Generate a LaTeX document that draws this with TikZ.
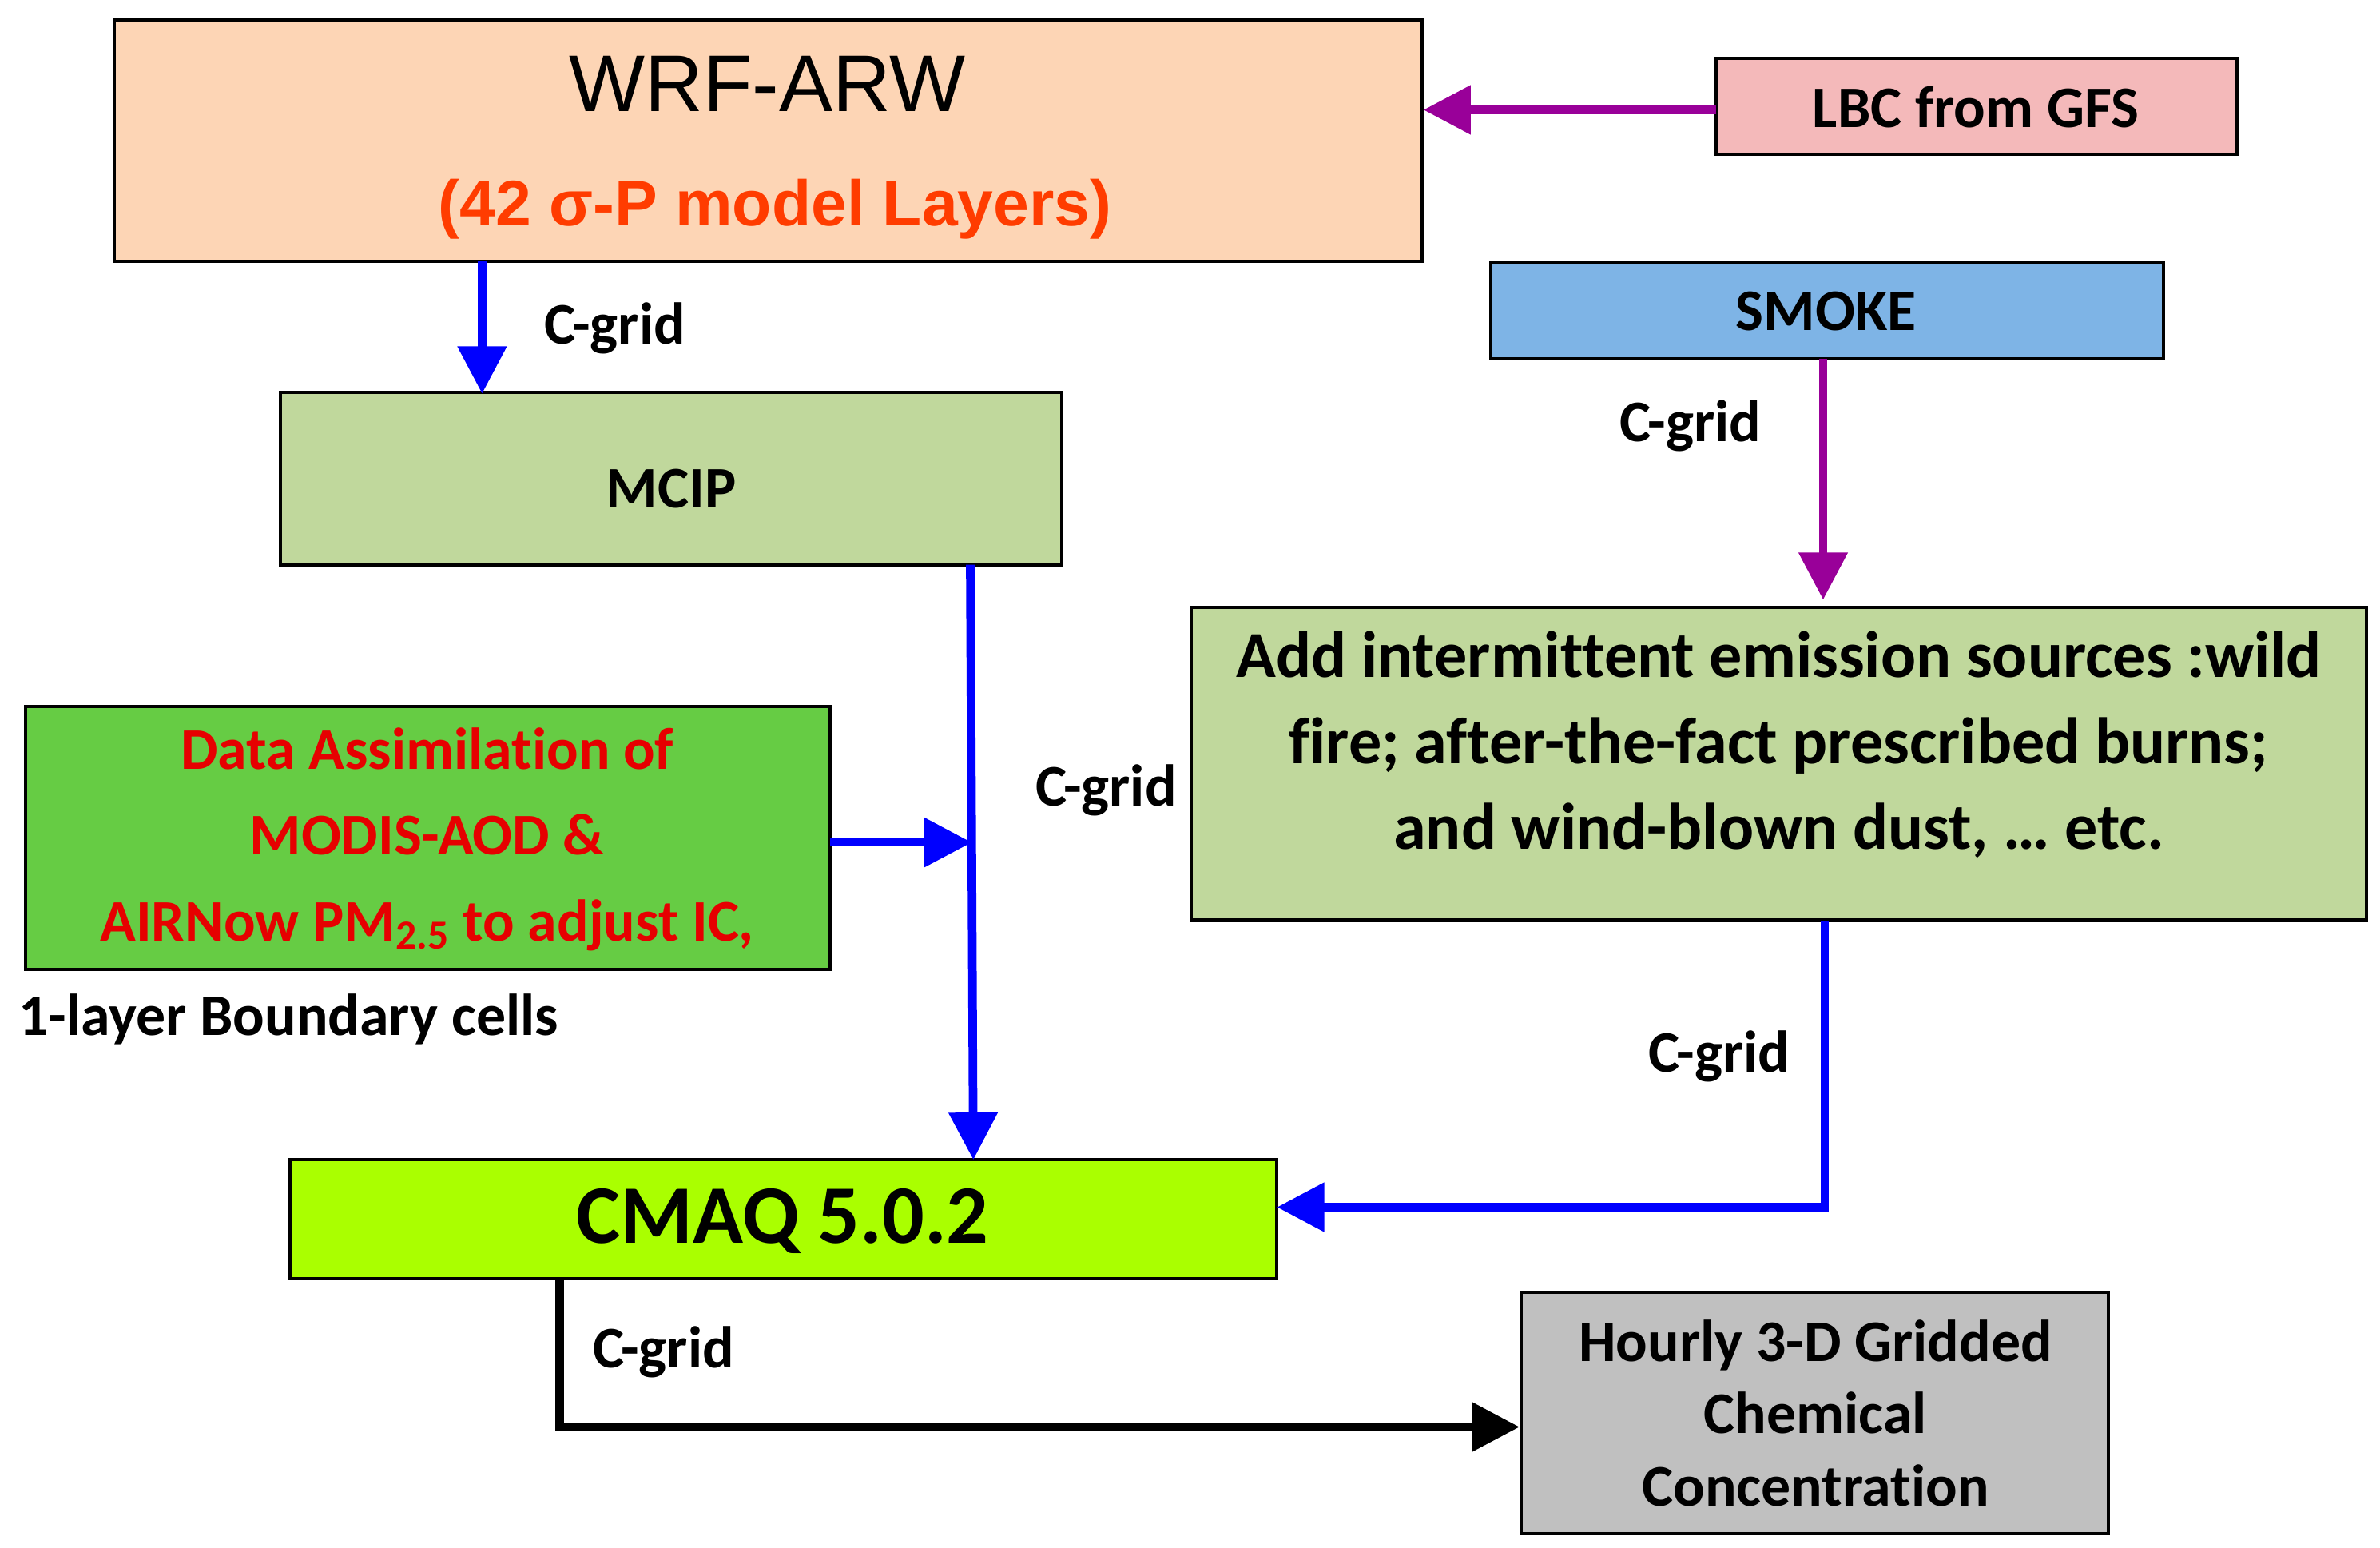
\documentclass[tikz,border=0pt]{standalone}
\usepackage{fontspec}
\setmainfont{Carlito}[Ligatures=NoCommon]
\newfontfamily\arialf{Liberation Sans}
\usetikzlibrary{arrows.meta}
\begin{document}
\begin{tikzpicture}[x=0.02cm,y=-0.02cm,
  box/.style={draw=black,line width=1.2pt,inner sep=0pt},
  conn/.style={line width=3.2pt,-{Triangle[length=0.62cm,width=0.62cm]}},
  lab/.style={font=\fontsize{22}{26}\selectfont\bfseries},
  blu/.style={conn,draw={rgb,255:red,0;green,0;blue,255}},
  pur/.style={conn,draw={rgb,255:red,153;green,0;blue,153}},
  blk/.style={conn,draw=black}]
\useasboundingbox (0,0) rectangle (1560,1014);
\definecolor{peach}{RGB}{253,213,181}
\definecolor{pink}{RGB}{244,185,186}
\definecolor{sky}{RGB}{126,180,230}
\definecolor{lgreen}{RGB}{192,216,156}
\definecolor{dgreen}{RGB}{102,204,68}
\definecolor{lime}{RGB}{170,255,0}
\definecolor{gry}{RGB}{192,192,192}
\definecolor{redt}{RGB}{230,0,0}
\definecolor{oran}{RGB}{255,60,0}

\draw[box,fill=peach] (75,13) rectangle (932,171);
\node[font=\arialf\fontsize{30}{34}\selectfont] (wrft) at (503,55) {WRF-ARW};
\node[font=\arialf\fontsize{24}{28}\selectfont\bfseries,text=oran] (wrfs) at (508,137) {(42 σ-P model Layers)};

\draw[box,fill=pink] (1125,38) rectangle (1466,101);
\node[lab] (lbc) at (1295,70) {LBC from GFS};

\draw[box,fill=sky] (977,172) rectangle (1418,235);
\node[lab] (smoke) at (1197,204) {SMOKE};

\draw[box,fill=lgreen] (184,257) rectangle (696,370);
\node[lab] (mcip) at (440,320) {MCIP};

\draw[box,fill=lgreen] (781,398) rectangle (1551,603);
\node[font=\fontsize{24.5}{28}\selectfont\bfseries,align=center] (add) at (1166,488) {Add intermittent emission sources :wild\\[4pt]fire; after-the-fact prescribed burns;\\[4pt]and wind-blown dust, … etc.};

\draw[box,fill=dgreen] (17,463) rectangle (544,635);
\node[lab,align=center,text=redt] (da) at (280,550) {Data Assimilation of\\[6pt]MODIS-AOD \&\\[6pt]AIRNow PM\textsubscript{2.5} to adjust IC,};
\node[lab] (blc) at (189,668) {1-layer Boundary cells};

\draw[box,fill=lime] (190,760) rectangle (837,838);
\node[font=\fontsize{31}{34}\selectfont\bfseries] (cmaq) at (513,800) {CMAQ 5.0.2};

\draw[box,fill=gry] (997,847) rectangle (1382,1005);
\node[lab,align=center] (hr) at (1190,926) {Hourly 3-D Gridded\\[1pt]Chemical\\[1pt]Concentration};

\coordinate (a1) at (316,171); \coordinate (a2) at (316,258);
\draw[blu] (a1) -- (a2);
\node[lab] (l1) at (403,215) {C-grid};

\coordinate (b1) at (1125,72); \coordinate (b2) at (933,72);
\draw[pur] (b1) -- (b2);

\coordinate (c1) at (1195,235); \coordinate (c2) at (1195,393);
\draw[pur] (c1) -- (c2);
\node[lab] (l2) at (1108,279) {C-grid};

\coordinate (d1) at (636,370); \coordinate (d2) at (638,760);
\draw[blu] (d1) -- (d2);
\coordinate (e1) at (544,552); \coordinate (e2) at (637,552);
\draw[blu] (e1) -- (e2);
\node[lab] (l3) at (725,518) {C-grid};

\coordinate (f1) at (1196,603); \coordinate (f2) at (1196,791); \coordinate (f3) at (837,791);
\draw[blu] (f1) -- (f2) -- (f3);
\node[lab] (l4) at (1127,692) {C-grid};

\coordinate (g1) at (367,838); \coordinate (g2) at (367,935); \coordinate (g3) at (996,935);
\draw[blk] (g1) -- (g2) -- (g3);
\node[lab] (l5) at (435,886) {C-grid};
\end{tikzpicture}
\end{document}
